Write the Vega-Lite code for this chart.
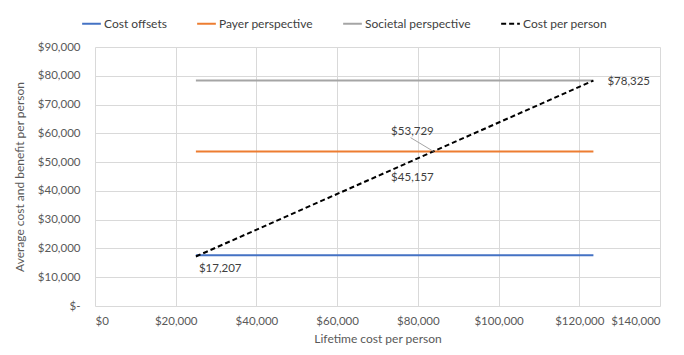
{
  "$schema": "https://vega.github.io/schema/vega-lite/v6.json",
  "width": 565,
  "height": 259,
  "autosize": {"type": "none"},
  "padding": {"left": 95, "top": 47, "right": 24, "bottom": 49},
  "background": "white",
  "config": {
    "font": "Lato",
    "view": {"stroke": null},
    "axis": {"labelColor": "#595959", "titleColor": "#595959", "labelFontSize": 11.5, "titleFontSize": 12, "titleFontWeight": "normal", "gridColor": "#d9d9d9", "gridWidth": 1, "domain": false, "ticks": false, "labelFont": "Lato", "titleFont": "Lato", "labelOverlap": false},
    "legend": {"labelColor": "#404040", "labelFontSize": 12, "labelFont": "Lato"}
  },
  "datasets": {
    "lines": [
      {"series": "Cost offsets", "cost": 25000, "value": 17600},
      {"series": "Cost offsets", "cost": 123500, "value": 17600},
      {"series": "Payer perspective", "cost": 25000, "value": 53729},
      {"series": "Payer perspective", "cost": 123500, "value": 53729},
      {"series": "Societal perspective", "cost": 25000, "value": 78325},
      {"series": "Societal perspective", "cost": 123500, "value": 78325},
      {"series": "Cost per person", "cost": 25000, "value": 17207},
      {"series": "Cost per person", "cost": 123500, "value": 78325}
    ],
    "labels": [
      {"id": "end", "cost": 123500, "value": 78325, "text": "$78,325"},
      {"id": "start", "cost": 25000, "value": 17207, "text": "$17,207"},
      {"id": "payer", "cost": 83860, "value": 53729, "text": "$53,729"},
      {"id": "breakeven", "cost": 83860, "value": 53729, "text": "$45,157"}
    ],
    "leader": [
      {"cost": 78200, "value": 58500, "cost2": 83860, "value2": 53729}
    ]
  },
  "encoding": {
    "x": {"field": "cost", "type": "quantitative", "scale": {"domain": [0, 140000]}, "axis": {"values": [0, 20000, 40000, 60000, 80000, 100000, 120000, 140000], "labelExpr": "'$' + format(datum.value, ',')", "title": "Lifetime cost per person", "labelPadding": 9, "titlePadding": 7}},
    "y": {"field": "value", "type": "quantitative", "scale": {"domain": [0, 90000]}, "axis": {"values": [0, 10000, 20000, 30000, 40000, 50000, 60000, 70000, 80000, 90000], "labelExpr": "datum.value == 0 ? '$-' : '$' + format(datum.value, ',')", "labelPadding": 15, "title": "Average cost and benefit per person", "titlePadding": 11, "encode": {"labels": {"update": {"dx": {"signal": "datum.value == 0 ? -18 : 0"}}}}}}
  },
  "layer": [
    {
      "data": {"name": "lines"},
      "mark": {"type": "line", "strokeWidth": 2},
      "encoding": {
        "color": {"field": "series", "type": "nominal", "scale": {"domain": ["Cost offsets", "Payer perspective", "Societal perspective", "Cost per person"], "range": ["#4472C4", "#ED7D31", "#A5A5A5", "#000000"]}, "legend": {"title": null, "orient": "none", "direction": "horizontal", "legendX": -14, "legendY": -34, "symbolType": "stroke", "symbolSize": 350, "symbolStrokeWidth": 2, "columnPadding": 26, "labelOffset": 2}},
        "strokeDash": {"field": "series", "type": "nominal", "scale": {"domain": ["Cost offsets", "Payer perspective", "Societal perspective", "Cost per person"], "range": [[1, 0], [1, 0], [1, 0], [5, 3]]}, "legend": null},
        "order": {"field": "cost"}
      }
    },
    {
      "data": {"name": "leader"},
      "mark": {"type": "rule", "color": "#A5A5A5", "strokeWidth": 1},
      "encoding": {
        "x2": {"field": "cost2"},
        "y2": {"field": "value2"}
      }
    },
    {
      "data": {"name": "labels"},
      "transform": [{"filter": "datum.id == 'end'"}],
      "mark": {"type": "text", "align": "left", "baseline": "middle", "dx": 14, "dy": 1, "fontSize": 11.5, "color": "#404040"},
      "encoding": {"text": {"field": "text"}}
    },
    {
      "data": {"name": "labels"},
      "transform": [{"filter": "datum.id == 'start'"}],
      "mark": {"type": "text", "align": "left", "baseline": "middle", "dx": 3, "dy": 13, "fontSize": 11.5, "color": "#404040"},
      "encoding": {"text": {"field": "text"}}
    },
    {
      "data": {"name": "labels"},
      "transform": [{"filter": "datum.id == 'payer'"}],
      "mark": {"type": "text", "align": "center", "baseline": "middle", "dx": -21, "dy": -19, "fontSize": 11.5, "color": "#404040"},
      "encoding": {"text": {"field": "text"}}
    },
    {
      "data": {"name": "labels"},
      "transform": [{"filter": "datum.id == 'breakeven'"}],
      "mark": {"type": "text", "align": "center", "baseline": "middle", "dx": -21, "dy": 27, "fontSize": 11.5, "color": "#404040"},
      "encoding": {"text": {"field": "text"}}
    }
  ]
}
